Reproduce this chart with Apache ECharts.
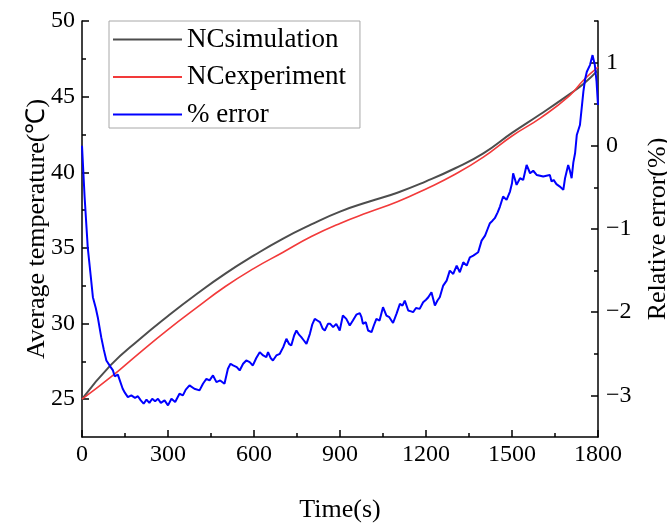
<!DOCTYPE html>
<html>
<head>
<meta charset="utf-8">
<script src="https://cdn.jsdelivr.net/npm/echarts@6/dist/echarts.min.js"></script>
<style>html,body{margin:0;padding:0;background:#fff}#c{width:667px;height:524px}</style>
</head>
<body>
<div id="c"></div>
<script>
// ---- data ----
const timeGrid = [0,100,200,300,400,500,600,700,800,900,1000,1100,1200,1300,1400,1500,1600,1700,1750,1800];
const simulation = [25.0,27.25,28.95,30.5,31.95,33.3,34.5,35.6,36.55,37.4,38.05,38.65,39.4,40.25,41.25,42.6,43.85,45.15,45.85,46.75];
const experiment = [25.0,26.45,28.05,29.6,31.05,32.45,33.65,34.7,35.75,36.62,37.35,38.05,38.9,39.85,41.0,42.4,43.6,45.05,46.1,46.95];

const errTime = [0,9,20,30,38,48,55,67,76,85,100,108,114,125,131,142,150,160,172,185,195,205,215,225,235,245,255,265,275,288,300,312,325,340,352,362,375,392,410,422,434,445,457,469,482,497,509,518,527,540,550,562,573,585,596,608,620,632,643,649,658,666,678,690,702,713,722,730,740,748,757,765,774,783,795,803,812,821,830,840,847,858,866,876,887,899,910,922,934,945,957,969,975,980,990,998,1010,1018,1027,1038,1050,1062,1072,1085,1097,1109,1118,1126,1138,1148,1155,1165,1178,1190,1200,1208,1219,1231,1240,1248,1260,1272,1283,1295,1307,1318,1330,1342,1353,1365,1382,1394,1406,1415,1423,1432,1440,1450,1458,1469,1475,1481,1493,1500,1504,1510,1516,1528,1539,1551,1563,1574,1586,1598,1609,1620,1632,1638,1645,1655,1667,1673,1679,1685,1696,1702,1708,1714,1720,1726,1737,1743,1749,1755,1761,1772,1781,1789,1795,1800];
const errValue = [0.0,-0.61,-1.22,-1.55,-1.82,-1.95,-2.06,-2.3,-2.45,-2.58,-2.66,-2.7,-2.77,-2.75,-2.76,-2.92,-2.97,-3.02,-3.0,-3.03,-3.01,-3.06,-3.1,-3.05,-3.09,-3.04,-3.07,-3.04,-3.09,-3.06,-3.12,-3.04,-3.08,-2.98,-3.0,-2.93,-2.88,-2.92,-2.94,-2.86,-2.8,-2.82,-2.76,-2.84,-2.82,-2.86,-2.68,-2.62,-2.64,-2.66,-2.7,-2.62,-2.58,-2.6,-2.64,-2.55,-2.48,-2.52,-2.54,-2.48,-2.55,-2.58,-2.52,-2.5,-2.42,-2.32,-2.38,-2.4,-2.28,-2.22,-2.27,-2.3,-2.34,-2.38,-2.26,-2.15,-2.08,-2.1,-2.12,-2.2,-2.22,-2.14,-2.14,-2.18,-2.14,-2.22,-2.04,-2.08,-2.16,-2.1,-2.03,-2.01,-2.06,-2.14,-2.12,-2.22,-2.24,-2.16,-2.08,-2.1,-1.94,-2.04,-2.06,-2.13,-2.02,-1.9,-1.92,-1.86,-1.98,-1.99,-2.0,-1.95,-1.96,-1.88,-1.85,-1.82,-1.76,-1.92,-1.86,-1.82,-1.68,-1.62,-1.5,-1.54,-1.44,-1.52,-1.4,-1.44,-1.34,-1.32,-1.28,-1.14,-1.08,-1.0,-0.93,-0.9,-0.87,-0.8,-0.73,-0.61,-0.6,-0.65,-0.55,-0.45,-0.33,-0.4,-0.47,-0.39,-0.41,-0.23,-0.33,-0.3,-0.35,-0.36,-0.37,-0.36,-0.35,-0.43,-0.41,-0.46,-0.49,-0.47,-0.53,-0.39,-0.23,-0.3,-0.39,-0.2,-0.09,0.13,0.25,0.45,0.65,0.8,0.89,0.97,1.09,0.97,0.77,0.49];

const xTicks = [0,300,600,900,1200,1500,1800];
const leftTicks = [25,30,35,40,45,50];
const leftMinor = [27.5,32.5,37.5,42.5,47.5];
const rightTicks = [-3,-2,-1,0,1];
const rightMinor = [-2.5,-1.5,-0.5,0.5,1.5];
const seriesNames = ['NCsimulation','NCexperiment','% error'];

// ---- chart ----
const FONT = '"Liberation Serif", "Times New Roman", serif';
const chart = echarts.init(document.getElementById('c'), null, {renderer:'canvas'});
const axisLine = {show:true, onZero:false, lineStyle:{color:'#000', width:1.5}};
const minusFmt = v => (v < 0 ? '\u2212' + Math.abs(v) : String(v));

chart.setOption({
  animation:false,
  backgroundColor:'#fff',
  grid:{left:82, right:69, top:21, bottom:87, containLabel:false, outerBoundsMode:'none'},
  legend:{
    data:seriesNames,
    orient:'vertical', left:109, top:21,
    icon:'rect', itemWidth:69, itemHeight:2, itemGap:10.5,
    padding:[5,14,0,4],
    borderColor:'#a8a8a8', borderWidth:1,
    textStyle:{fontFamily:FONT, fontSize:27, color:'#000'}
  },
  xAxis:[{
    type:'value', min:xTicks[0], max:xTicks[xTicks.length-1], interval:xTicks[1]-xTicks[0],
    axisLine:axisLine,
    axisTick:{show:true, inside:true, length:7, lineStyle:{color:'#000', width:1.5}},
    minorTick:{show:true, splitNumber:2, length:4, lineStyle:{color:'#000', width:1.5}},
    axisLabel:{fontFamily:FONT, fontSize:24, color:'#000', margin:6, formatter:v=>String(v)},
    splitLine:{show:false}, minorSplitLine:{show:false},
    name:'Time(s)', nameLocation:'middle', nameGap:60, nameMoveOverlap:false,
    nameTextStyle:{fontFamily:FONT, fontSize:26, color:'#000'}
  }],
  yAxis:[
    {
      type:'value', position:'left', min:22.5, max:50,
      axisLine:axisLine,
      axisTick:{show:true, inside:true, length:7, customValues:leftTicks, lineStyle:{color:'#000', width:1.5}},
      axisLabel:{fontFamily:FONT, fontSize:24, color:'#000', margin:7, customValues:leftTicks},
      splitLine:{show:false},
      name:'Average temperature(\u2103)', nameLocation:'middle', nameGap:32, nameRotate:90, nameMoveOverlap:false,
      nameTextStyle:{fontFamily:FONT, fontSize:26, color:'#000'}
    },
    {
      type:'value', position:'right', min:-3.5, max:1.5,
      axisLine:axisLine,
      axisTick:{show:true, inside:true, length:7, customValues:rightTicks, lineStyle:{color:'#000', width:1.5}},
      axisLabel:{fontFamily:FONT, fontSize:24, color:'#000', margin:8, customValues:rightTicks, formatter:minusFmt},
      splitLine:{show:false},
      name:'Relative error(%)', nameLocation:'middle', nameGap:47, nameRotate:90, nameMoveOverlap:false,
      nameTextStyle:{fontFamily:FONT, fontSize:26, color:'#000'}
    },
    {
      type:'value', position:'left', min:22.5, max:50,
      axisLine:{show:false},
      axisTick:{show:true, inside:true, length:4, customValues:leftMinor, lineStyle:{color:'#000', width:1.5}},
      axisLabel:{show:false}, splitLine:{show:false}
    },
    {
      type:'value', position:'right', min:-3.5, max:1.5,
      axisLine:{show:false},
      axisTick:{show:true, inside:true, length:4, customValues:rightMinor, lineStyle:{color:'#000', width:1.5}},
      axisLabel:{show:false}, splitLine:{show:false}
    }
  ],
  series:[
    {
      name:seriesNames[0], type:'line', yAxisIndex:0, smooth:true, symbol:'none',
      data:timeGrid.map((t,i)=>[t, simulation[i]]),
      lineStyle:{color:'#4d4d4d', width:2}, itemStyle:{color:'#4d4d4d'}, z:3
    },
    {
      name:seriesNames[1], type:'line', yAxisIndex:0, smooth:true, symbol:'none',
      data:timeGrid.map((t,i)=>[t, experiment[i]]),
      lineStyle:{color:'#f23a3a', width:1.6}, itemStyle:{color:'#f23a3a'}, z:4
    },
    {
      name:seriesNames[2], type:'line', yAxisIndex:1, symbol:'none',
      data:errTime.map((t,i)=>[t, errValue[i]]),
      lineStyle:{color:'#0000ff', width:2}, itemStyle:{color:'#0000ff'}, z:5
    }
  ]
});
</script>
</body>
</html>
